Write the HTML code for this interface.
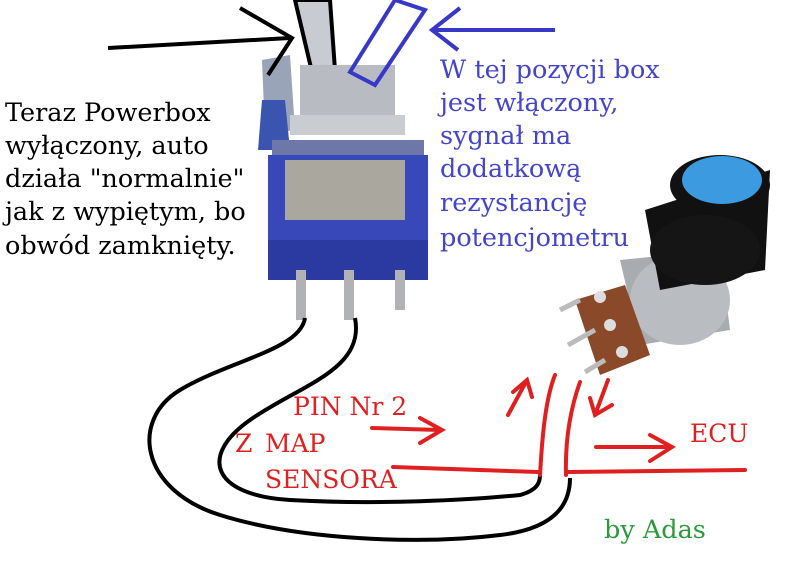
<!DOCTYPE html>
<html><head><meta charset="utf-8"><style>
body{margin:0;background:#fff;}
svg{display:block}
text{font-family:"DejaVu Serif","Liberation Serif",serif;}
</style></head><body>
<svg width="798" height="569" viewBox="0 0 798 569" xmlns="http://www.w3.org/2000/svg">
<rect width="798" height="569" fill="#fff"/>
<!-- toggle switch -->
<path d="M262 60 L290 55 L295 130 L265 135 Z" fill="#9aa4b8"/>
<path d="M262 100 L285 100 L290 150 L258 150 Z" fill="#3a55b0"/>
<polygon points="295,0 330,0 335,70 312,72" fill="#c8ccd2" stroke="#000" stroke-width="4"/>
<rect x="300" y="65" width="95" height="55" fill="#b8bcc2"/>
<rect x="290" y="115" width="115" height="20" fill="#c9ccd0"/>
<rect x="272" y="140" width="152" height="20" fill="#6e78a8"/>
<rect x="268" y="155" width="160" height="120" fill="#3848b8"/>
<rect x="285" y="160" width="120" height="60" fill="#a9a79e"/>
<rect x="268" y="240" width="160" height="40" fill="#2a3aa0"/>
<rect x="296" y="270" width="10" height="50" fill="#b0b2b5"/>
<rect x="344" y="270" width="10" height="50" fill="#b0b2b5"/>
<rect x="395" y="270" width="10" height="40" fill="#b0b2b5"/>
<!-- pot -->
<path d="M620 260 L720 250 L730 330 L640 345 Z" fill="#a8abb0"/>
<ellipse cx="680" cy="300" rx="50" ry="45" fill="#b9bcc0"/>
<path d="M645 210 L770 170 L765 270 L660 290 Z" fill="#111"/>
<ellipse cx="705" cy="250" rx="55" ry="35" fill="#151515"/>
<ellipse cx="720" cy="185" rx="50" ry="30" fill="#111"/>
<ellipse cx="722" cy="180" rx="40" ry="24" fill="#3b9ae0"/>
<path d="M575 300 L625 285 L650 355 L600 375 Z" fill="#8a4a2a"/>
<circle cx="600" cy="297" r="6" fill="#ddd"/><circle cx="610" cy="325" r="6" fill="#ddd"/><circle cx="622" cy="352" r="6" fill="#ddd"/>
<path d="M580 300 L560 310 M595 330 L568 345 M605 360 L585 372" stroke="#bbb" stroke-width="5"/>
<!-- top arrows -->
<path d="M108 48 L290 38 M240 8 L292 38 L268 75" stroke="#000" stroke-width="4" fill="none"/>
<polygon points="350,72 395,0 425,10 375,85" fill="none" stroke="#3838c8" stroke-width="4"/>
<path d="M555 30 L432 30 M460 8 L432 30 L458 50" stroke="#3838c8" stroke-width="4" fill="none"/>
<!-- black wires -->
<path d="M305 318 C300 350 230 360 180 390 C130 420 140 490 220 515 C300 540 420 545 500 535 C560 528 570 500 570 478" stroke="#000" stroke-width="4" fill="none"/>
<path d="M355 318 C365 370 300 385 250 420 C200 455 210 495 290 500 C380 505 470 500 520 495 C538 490 540 482 540 475" stroke="#000" stroke-width="4" fill="none"/>
<!-- red -->
<g stroke="#e02020" stroke-width="4" fill="none" stroke-linecap="round">
<path d="M555 375 C545 400 542 440 540 475"/>
<path d="M393 467 L538 472"/>
<path d="M580 382 C570 410 565 440 566 475"/>
<path d="M568 472 L745 470"/>
<path d="M508 415 L527 380 M513 392 L527 380 L532 397"/>
<path d="M608 380 L595 415 M612 405 L595 415 L590 398"/>
<path d="M372 428 L440 430 M420 418 L442 430 L420 443"/>
<path d="M596 447 L670 447 M650 435 L672 447 L650 461"/>
</g>
<!-- texts -->
<g font-size="25.5" fill="#000">
<text x="5" y="121">Teraz Powerbox</text>
<text x="5" y="154">wyłączony, auto</text>
<text x="5" y="187">działa "normalnie"</text>
<text x="5" y="220">jak z wypiętym, bo</text>
<text x="5" y="254">obwód zamknięty.</text>
</g>
<g font-size="25.5" fill="#4444cc">
<text x="440" y="78">W tej pozycji box</text>
<text x="440" y="111">jest włączony,</text>
<text x="440" y="144">sygnał ma</text>
<text x="440" y="177">dodatkową</text>
<text x="440" y="211">rezystancję</text>
<text x="440" y="246">potencjometru</text>
</g>
<g font-size="25" fill="#e02020">
<text x="293" y="415">PIN Nr 2</text>
<text x="235" y="452">Z</text>
<text x="265" y="452">MAP</text>
<text x="265" y="488">SENSORA</text>
<text x="690" y="442">ECU</text>
</g>
<text x="604" y="538" font-size="25.5" fill="#2a9a3a">by Adas</text>
</svg>
</body></html>
